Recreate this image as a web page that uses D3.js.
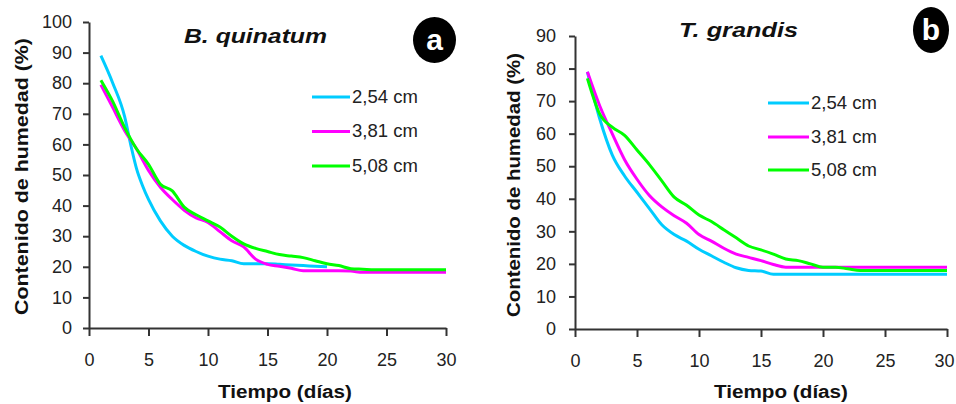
<!DOCTYPE html>
<html>
<head>
<meta charset="utf-8">
<script src="https://cdn.jsdelivr.net/npm/d3@7"></script>
<style>
  html, body { margin: 0; padding: 0; background: #fff; }
  svg { display: block; }
  text { font-family: Arial, "Liberation Sans", sans-serif; }
</style>
</head>
<body>
<svg id="chart" width="956" height="404"></svg>
<script>
// ---------- DATA ----------
const legendLabels = ["2,54 cm", "3,81 cm", "5,08 cm"];
const seriesColors = ["#00CCFF", "#FF00FF", "#00FF00"];
const xTicks = [0, 5, 10, 15, 20, 25, 30];
const yTicksA = [0, 10, 20, 30, 40, 50, 60, 70, 80, 90, 100];
const yTicksB = [0, 10, 20, 30, 40, 50, 60, 70, 80, 90];
const titleA = "B. quinatum";
const titleB = "T. grandis";
const yLabel = "Contenido de humedad (%)";
const xLabel = "Tiempo (días)";

// Panel a: B. quinatum
const daysA254 = [1,2,3,3.5,4,4.5,5,6,7,8,9,10,11,12,13,14,15,16,17,18,19,20];
const valsA254 = [89,80,69,60,52,46.5,42,35,30,27,25,23.5,22.5,22,21,21,21,20.8,20.6,20.4,20.2,20];
const daysA381 = [1,2,3,4,5,6,7,8,9,10,11,12,13,14,15,16,17,18,19,20,21,22,23,24,25,26,27,28,29,30];
const valsA381 = [79.5,72,64.5,58.5,51.5,46,42,38.5,36,34.5,31.5,28.5,26.5,22.5,20.8,20.2,19.5,18.7,18.7,18.7,18.7,18.6,18.2,18.2,18.2,18.2,18.2,18.2,18.2,18.2];
const daysA508 = [1,2,3,4,5,6,7,8,9,10,11,12,13,14,15,16,17,18,19,20,21,22,23,24,25,26,27,28,29,30];
const valsA508 = [81,74,65.5,58.5,53.5,47,44.8,39.5,37,35,33,30,27.5,26,25,24,23.5,23,22,21,20.4,19.4,19.2,19,19,19,19,19,19,19];

// Panel b: T. grandis
const daysB = [1,2,3,4,5,6,7,8,9,10,11,12,13,14,15,16,17,18,19,20,21,22,23,24,25,26,27,28,29,30];
const valsB254 = [79,64.5,53.5,47,42,37,32,29,27,24.5,22.5,20.5,18.8,18,17.8,16.8,16.8,16.8,16.8,16.8,16.8,16.8,16.8,16.8,16.8,16.8,16.8,16.8,16.8,16.8];
const valsB381 = [79,68.5,60,52,46,41,37.5,34.8,32.5,29,27,24.8,23,22,21,19.8,19,19,19,19,19,19,19,19,19,19,19,19,19,19];
const valsB508 = [77,66,62,59.5,55,50.5,45.5,40.5,38,35,33,30.5,28,25.5,24.3,23,21.5,21,20,19,19,18.5,18,18,18,18,18,18,18,18];

// ---------- DRAW ----------
const svg = d3.select("#chart");
const FONT = 'Arial, "Liberation Sans", sans-serif';
const ink = "#222";

function panel(cfg) {
  const x = d3.scaleLinear().domain([0, 30]).range(cfg.xRange);
  const y = d3.scaleLinear().domain(cfg.yDomain).range(cfg.yRange);
  const g = svg.append("g");

  // axes
  const ya = g.append("g")
    .attr("transform", `translate(${cfg.xRange[0]},0)`)
    .call(d3.axisLeft(y).tickValues(cfg.yTicks).tickSize(6).tickSizeOuter(0).tickPadding(cfg.yPad));
  const xa = g.append("g")
    .attr("transform", `translate(0,${cfg.yRange[0]})`)
    .call(d3.axisBottom(x).tickValues(xTicks).tickSize(8).tickSizeOuter(0).tickPadding(17));
  [ya, xa].forEach(a => {
    a.selectAll("path.domain").attr("stroke", "#333").attr("stroke-width", 2);
    a.selectAll(".tick line").attr("stroke", "#333").attr("stroke-width", 2);
    a.selectAll(".tick text").attr("font-size", 18).attr("font-family", FONT).attr("fill", ink);
  });
  if (cfg.lastTickShift) {
    xa.selectAll(".tick text").filter(d => d === 30).attr("dx", cfg.lastTickShift);
  }

  // lines
  const line = d3.line().x(d => x(d[0])).y(d => y(d[1])).curve(d3.curveMonotoneX);
  cfg.series.forEach((s, i) => {
    const pts = s.days.map((d, k) => [d, s.vals[k]]);
    g.append("path").datum(pts)
      .attr("d", line)
      .attr("fill", "none")
      .attr("stroke", seriesColors[i])
      .attr("stroke-width", 3)
      .attr("stroke-linejoin", "round");
  });

  // legend
  legendLabels.forEach((lab, i) => {
    const ly = cfg.legY[i];
    g.append("line")
      .attr("x1", cfg.legX[0]).attr("x2", cfg.legX[1])
      .attr("y1", ly).attr("y2", ly)
      .attr("stroke", seriesColors[i]).attr("stroke-width", 3);
    g.append("text")
      .attr("x", cfg.legX[1] + 2).attr("y", ly + 5.5)
      .attr("font-size", 18.5).attr("fill", ink)
      .text(lab);
  });

  // title
  g.append("text")
    .attr("x", cfg.title.x).attr("y", cfg.title.y)
    .attr("font-size", 21).attr("font-weight", "bold").attr("font-style", "italic")
    .attr("fill", "#111")
    .attr("textLength", cfg.title.len).attr("lengthAdjust", "spacingAndGlyphs")
    .text(cfg.title.text);

  // y label
  g.append("text")
    .attr("transform", `translate(${cfg.yLab.x},${cfg.yLab.cy}) rotate(-90)`)
    .attr("text-anchor", "middle")
    .attr("font-size", 18).attr("font-weight", "bold").attr("fill", "#111")
    .attr("textLength", cfg.yLab.len).attr("lengthAdjust", "spacingAndGlyphs")
    .text(yLabel);

  // x label
  g.append("text")
    .attr("x", cfg.xLab.x).attr("y", 398)
    .attr("font-size", 18).attr("font-weight", "bold").attr("fill", "#111")
    .attr("textLength", 134).attr("lengthAdjust", "spacingAndGlyphs")
    .text(xLabel);

  // badge
  g.append("ellipse")
    .attr("cx", cfg.badge.cx).attr("cy", cfg.badge.cy)
    .attr("rx", cfg.badge.rx).attr("ry", cfg.badge.ry)
    .attr("fill", "#000");
  g.append("text")
    .attr("x", cfg.badge.cx).attr("y", cfg.badge.cy + 10)
    .attr("text-anchor", "middle")
    .attr("font-size", 30).attr("font-weight", "bold").attr("fill", "#fff")
    .text(cfg.badge.letter);
}

panel({
  xRange: [89, 446], yDomain: [0, 100], yRange: [328, 22], yTicks: yTicksA, yPad: 11,
  series: [
    { days: daysA254, vals: valsA254 },
    { days: daysA381, vals: valsA381 },
    { days: daysA508, vals: valsA508 }
  ],
  legX: [312, 350], legY: [97, 131.5, 166],
  title: { text: titleA, x: 184, y: 43, len: 143 },
  yLab: { x: 28, cy: 176.5, len: 277 },
  xLab: { x: 218 },
  badge: { cx: 434.5, cy: 40, rx: 21.5, ry: 23, letter: "a" }
});

panel({
  xRange: [575, 947], yDomain: [0, 90], yRange: [329, 36], yTicks: yTicksB, yPad: 13,
  series: [
    { days: daysB, vals: valsB254 },
    { days: daysB, vals: valsB381 },
    { days: daysB, vals: valsB508 }
  ],
  legX: [768, 809], legY: [103, 137, 170],
  title: { text: titleB, x: 679, y: 37, len: 119 },
  yLab: { x: 520, cy: 185, len: 264 },
  xLab: { x: 714 },
  badge: { cx: 931, cy: 30, rx: 18, ry: 23, letter: "b" },
  lastTickShift: -3
});
</script>
</body>
</html>
